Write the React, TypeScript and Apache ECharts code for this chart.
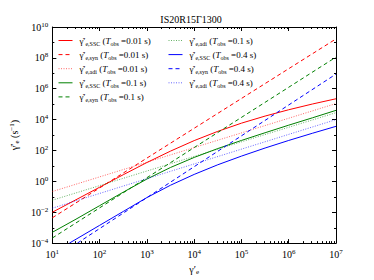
import React, { useEffect, useRef } from "react";
import * as echarts from "echarts";

const F = "'Liberation Serif', 'DejaVu Serif', serif";

const titleText = "IS20R15Γ1300";
const tobsValues = ["0.01", "0.1", "0.4"];
const lineColors = ["#ff0000", "#008000", "#0000ff"];
const kinds = ["SSC", "syn", "adi"];

// All values are log10 exponents
const sscX = [1, 1.5, 2, 2.5, 3, 3.5, 4, 4.5, 5, 5.5, 6, 6.5, 7];
const sscRed = [-2.0, -1.19, -0.38, 0.43, 1.22, 1.96, 2.64, 3.24, 3.77, 4.23, 4.64, 5.01, 5.35];
const sscGreen = [-3.3, -2.45, -1.575, -0.7, 0.15, 0.9, 1.55, 2.125, 2.65, 3.15, 3.64, 4.115, 4.6];
const sscBlueX = [1.36, 1.5, 2, 2.5, 3, 3.5, 4, 4.5, 5, 5.5, 6, 6.5, 7];
const sscBlue = [-4, -3.75, -2.85, -1.95, -1.05, -0.25, 0.45, 1.075, 1.635, 2.16, 2.65, 3.115, 3.565];

const synX = [1, 4, 7];
const synRed = [-2.36, 3.44, 9.23];
const synGreen = [-3.67, 2.19, 8.05];
const synBlueX = [1.53, 4, 7];
const synBlue = [-4, 0.95, 6.95];

const adiX = [1, 7];
const adiRed = [-0.66, 5.04];
const adiGreen = [-1.22, 4.45];
const adiBlue = [-1.74, 4.0];

const xMin = 1, xMax = 7; // exponents
const yMin = -4, yMax = 10;
const xMinorMult = [2, 3, 4, 5, 6, 7, 8, 9];
const yMinorExps = [-3, -1, 1, 3, 5, 7, 9];

const pw = (e: number) => Math.pow(10, e);
const pts = (xs: number[], ys: number[]) => xs.map((x, i) => [pw(x), pw(ys[i])]);

const curves: { kind: number; t: number; xs: number[]; ys: number[] }[] = [
  { kind: 0, t: 0, xs: sscX, ys: sscRed },
  { kind: 1, t: 0, xs: synX, ys: synRed },
  { kind: 2, t: 0, xs: adiX, ys: adiRed },
  { kind: 0, t: 1, xs: sscX, ys: sscGreen },
  { kind: 1, t: 1, xs: synX, ys: synGreen },
  { kind: 2, t: 1, xs: adiX, ys: adiGreen },
  { kind: 0, t: 2, xs: sscBlueX, ys: sscBlue },
  { kind: 1, t: 2, xs: synBlueX, ys: synBlue },
  { kind: 2, t: 2, xs: adiX, ys: adiBlue },
];

const seriesName = (k: number, t: number) => `${kinds[k]}|${tobsValues[t]}`;
const legendLabel = (name: string) => {
  const [k, t] = name.split("|");
  return `{g|γ̇′}{sb|e,${k}}{n| (}{t|T}{sb|obs}{n| =${t} s)}`;
};

const expLabel = (v: number) => {
  const e = Math.round(Math.log10(v));
  return `{b|10}{s|${e < 0 ? "−" + Math.abs(e) : e}}`;
};

const dashFor = (k: number) => (k === 0 ? "solid" : k === 1 ? [4, 3] : [1, 1.5]);

export default function App() {
  const ref = useRef<HTMLDivElement>(null);
  useEffect(() => {
    if (!ref.current) return;
    const chart = echarts.init(ref.current, undefined, { renderer: "svg" });

    const lineSeries = curves.map((c) => ({
      name: seriesName(c.kind, c.t),
      type: "line",
      data: pts(c.xs, c.ys),
      symbol: "none",
      showSymbol: false,
      smooth: false,
      clip: true,
      lineStyle: {
        color: lineColors[c.t],
        width: 1,
        type: dashFor(c.kind),
        opacity: c.kind === 2 ? 0.6 : 1,
      },
      itemStyle: { color: lineColors[c.t] },
      emphasis: { disabled: true },
      z: 3,
    }));

    const minorData: number[][] = [];
    for (let n = xMin; n < xMax; n++) {
      xMinorMult.forEach((k) => minorData.push([k * pw(n), pw(yMin), 0]));
    }
    yMinorExps.forEach((e) => minorData.push([pw(xMin), pw(e), 1]));

    const minorSeries = {
      type: "custom",
      silent: true,
      data: minorData,
      encode: { x: 0, y: 1 },
      z: 4,
      renderItem: (params: any, api: any) => {
        const cs = params.coordSys;
        const flag = api.value(2);
        const st = { stroke: "#000", lineWidth: 1 };
        if (flag === 0) {
          const x = Math.round(api.coord([api.value(0), pw(yMin)])[0]) + 0.5;
          const yb = cs.y + cs.height;
          return {
            type: "group",
            children: [
              { type: "line", shape: { x1: x, y1: yb, x2: x, y2: yb - 2 }, style: st },
              { type: "line", shape: { x1: x, y1: cs.y, x2: x, y2: cs.y + 2 }, style: st },
            ],
          };
        }
        const y = Math.round(api.coord([pw(xMin), api.value(1)])[1]) + 0.5;
        const xr = cs.x + cs.width;
        return {
          type: "group",
          children: [
            { type: "line", shape: { x1: cs.x, y1: y, x2: cs.x + 2, y2: y }, style: st },
            { type: "line", shape: { x1: xr, y1: y, x2: xr - 2, y2: y }, style: st },
          ],
        };
      },
    };

    const tickRich = {
      b: { fontSize: 10, fontFamily: F, color: "#000", lineHeight: 12 },
      s: { fontSize: 7, fontFamily: F, color: "#000", lineHeight: 7, verticalAlign: "top" },
    };
    const legRich = {
      g: { fontSize: 9, fontFamily: F, color: "#000", lineHeight: 12 },
      n: { fontSize: 9, fontFamily: F, color: "#000", lineHeight: 12 },
      t: { fontSize: 9, fontFamily: F, color: "#000", fontStyle: "italic", lineHeight: 12 },
      sb: { fontSize: 6, fontFamily: F, color: "#000", lineHeight: 6, verticalAlign: "bottom" },
    };
    const axisLineStyle = { color: "#000", width: 1 };

    const names = curves.map((c) => seriesName(c.kind, c.t));
    const legendCommon = {
      orient: "vertical",
      top: 31,
      itemWidth: 14,
      itemHeight: 8,
      itemGap: 3.6,
      selectedMode: false,
      formatter: legendLabel,
      itemStyle: { opacity: 0 },
      lineStyle: { width: 1 },
      textStyle: { rich: legRich, padding: [0, 0, 0, 2] },
    };

    chart.setOption({
      animation: false,
      backgroundColor: "#fff",
      grid: { left: 46, right: 38, top: 27, bottom: 28, show: false },
      graphic: [
        {
          type: "text",
          style: {
            text: titleText,
            x: 191,
            y: 14,
            textAlign: "center",
            verticalAlign: "top",
            fontSize: 10,
            fontFamily: F,
            fill: "#000",
          },
        },
      ],
      legend: [
        { ...legendCommon, left: 53, data: names.slice(0, 5) },
        { ...legendCommon, left: 163, data: names.slice(5) },
      ],
      xAxis: [
        {
          type: "log",
          logBase: 10,
          min: pw(xMin),
          max: pw(xMax),
          interval: 1,
          position: "bottom",
          axisLine: { show: true, onZero: false, lineStyle: axisLineStyle },
          axisTick: { show: true, inside: true, length: 4, lineStyle: axisLineStyle },
          axisLabel: { formatter: expLabel, rich: tickRich, margin: 5 },
          splitLine: { show: false },
          name: "{g|γ′}{sb|e}",
          nameLocation: "middle",
          nameGap: 17,
          nameTextStyle: {
            rich: {
              g: { fontSize: 10, fontFamily: F, color: "#000", lineHeight: 12 },
              sb: { fontSize: 7, fontFamily: F, color: "#000", lineHeight: 6, verticalAlign: "bottom" },
            },
          },
        },
        {
          type: "log",
          logBase: 10,
          min: pw(xMin),
          max: pw(xMax),
          interval: 1,
          position: "top",
          axisLine: { show: true, onZero: false, lineStyle: axisLineStyle },
          axisTick: { show: true, inside: true, length: 4, lineStyle: axisLineStyle },
          axisLabel: { show: false },
          splitLine: { show: false },
        },
      ],
      yAxis: [
        {
          type: "log",
          logBase: 10,
          min: pw(yMin),
          max: pw(yMax),
          interval: 2,
          position: "left",
          axisLine: { show: true, onZero: false, lineStyle: axisLineStyle },
          axisTick: { show: true, inside: true, length: 4, lineStyle: axisLineStyle },
          axisLabel: { formatter: expLabel, rich: tickRich, margin: 4 },
          splitLine: { show: false },
          name: "{g|γ̇′}{sb|e}{n| (s}{sp|−1}{n|)}",
          nameLocation: "middle",
          nameRotate: 90,
          nameGap: 28,
          nameTextStyle: {
            rich: {
              g: { fontSize: 10, fontFamily: F, color: "#000", lineHeight: 12 },
              n: { fontSize: 10, fontFamily: F, color: "#000", lineHeight: 12 },
              sb: { fontSize: 7, fontFamily: F, color: "#000", lineHeight: 6, verticalAlign: "bottom" },
              sp: { fontSize: 7, fontFamily: F, color: "#000", lineHeight: 7, verticalAlign: "top" },
            },
          },
        },
        {
          type: "log",
          logBase: 10,
          min: pw(yMin),
          max: pw(yMax),
          interval: 2,
          position: "right",
          axisLine: { show: true, onZero: false, lineStyle: axisLineStyle },
          axisTick: { show: true, inside: true, length: 4, lineStyle: axisLineStyle },
          axisLabel: { show: false },
          splitLine: { show: false },
        },
      ],
      series: [...lineSeries, minorSeries],
    });

    return () => chart.dispose();
  }, []);

  return (
    <div
      ref={ref}
      style={{ position: "fixed", left: 0, top: 0, width: 374, height: 280, background: "#fff" }}
    />
  );
}
